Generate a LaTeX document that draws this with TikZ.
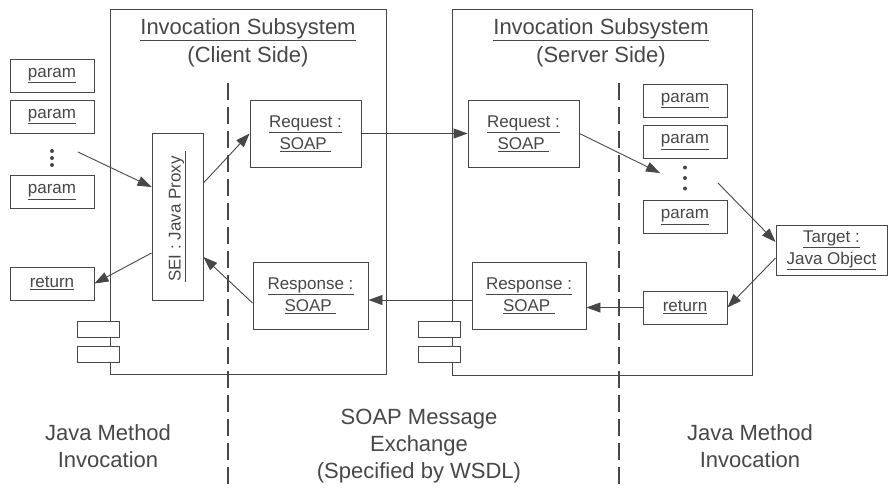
\documentclass[tikz,border=0pt]{standalone}
\usepackage{fontspec}
\setmainfont{Liberation Sans}
\usetikzlibrary{arrows.meta}
\definecolor{ink}{gray}{0.28}

\begin{document}
\begin{tikzpicture}[x=1pt,y=-1pt]
\tikzstyle{every node}+=[inner sep=0pt, text=ink, align=center, font=\fontsize{17}{22}\selectfont]
\tikzstyle{box}=[draw=ink, line width=0.9pt, fill=white, minimum width=84pt, minimum height=33pt]
\tikzstyle{msg}=[box, minimum width=111pt, minimum height=67pt]
\tikzstyle{tab}=[draw=ink, line width=0.9pt, fill=white, minimum width=42pt, minimum height=16pt]
\tikzstyle{sys}=[draw=ink, line width=1pt]
\tikzstyle{split}=[draw=ink, line width=1.6pt, dash pattern=on 17pt off 7pt]
\tikzstyle{flow}=[draw=ink, line width=0.9pt, -{Triangle[length=14pt,width=10pt]}]
\tikzstyle{big}=[font=\fontsize{22}{28}\selectfont]
\useasboundingbox (0,0) rectangle (888,490);

\draw[sys] (110,9) rectangle (386,374);
\draw[sys] (452,9) rectangle (752,375);
\node[tab] (tabC1) at (98,329) {};
\node[tab] (tabC2) at (98,354) {};
\node[tab] (tabS1) at (439,329) {};
\node[tab] (tabS2) at (439,354) {};
\draw[split] (228,83) -- (228,490);
\draw[split] (619,83) -- (619,490);

\node[big] (headC) at (248,43) {\underline{Invocation Subsystem}\\(Client Side)};
\node[big] (headS) at (601,43) {\underline{Invocation Subsystem}\\(Server Side)};

\node[box] (pl1) at (52,75.5) {\underline{param}};
\node[box] (pl2) at (52,116.5) {\underline{param}};
\node (dotsL) at (52,158) {};
\node[box] (pl3) at (52,192) {\underline{param}};
\node[box] (retL) at (52,283.5) {\underline{return}};
\node[draw=ink, line width=0.9pt, minimum width=51pt, minimum height=167pt] (sei) at (177.5,216.5) {};
\node[rotate=90] (seiText) at (sei) {\underline{SEI : Java Proxy\ }};

\node[msg] (reqC) at (305.5,133.5) {\underline{Request :}\\\underline{SOAP\ }};
\node[msg] (reqS) at (523.5,133.5) {\underline{Request :}\\\underline{SOAP\ }};
\node[msg, minimum width=115pt] (resC) at (310.5,295.5) {\underline{Response :}\\\underline{SOAP\ }};
\node[msg, minimum width=114pt] (resS) at (529,295.5) {\underline{Response :}\\\underline{SOAP\ }};

\node[box] (pr1) at (685,100.5) {\underline{param}};
\node[box] (pr2) at (685,142) {\underline{param}};
\node (dotsR) at (685,178) {};
\node[box] (pr3) at (685,217) {\underline{param}};
\node[box] (retR) at (685,307.5) {\underline{return}};
\node[box, minimum width=111pt, minimum height=50pt] (target) at (831.5,250) {\underline{Target :}\\\underline{Java Object}};

\foreach \d in {-7,0,7} \fill[ink] ([yshift=\d pt]dotsL) circle (2);
\foreach \d in {-10.5,0,10.5} \fill[ink] ([yshift=\d pt]dotsR) circle (2);

\coordinate (fromL) at (78,152);
\coordinate (toR) at (660,173);
\coordinate (fromR) at (718,183);
\draw[flow] (fromL) -- ([yshift=29.5pt]sei.west);
\draw[flow] ([yshift=33.5pt]sei.east) -- (reqC.west);
\draw[flow] (reqC.east) -- (reqS.west);
\draw[flow] (reqS.east) -- (toR);
\draw[flow] (fromR) -- ([yshift=8pt]target.west);
\draw[flow] ([yshift=-8pt]target.west) -- (retR.east);
\draw[flow] (retR.west) -- (retR.west -| resS.east);
\draw[flow] ([yshift=-4.5pt]resS.west) -- ([yshift=-4.5pt]resC.east);
\draw[flow] ([yshift=-7.5pt]resC.west) -- ([yshift=-40.5pt]sei.east);
\draw[flow] ([yshift=-36.5pt]sei.west) -- (retL.east);

\node[big, font=\fontsize{22}{27}\selectfont] (javaL) at (108,446) {Java Method\\Invocation};
\node[big, font=\fontsize{22}{27}\selectfont] (soapX) at (419,446) {SOAP Message\\Exchange\\(Specified by WSDL)};
\node[big, font=\fontsize{22}{27}\selectfont] (javaR) at (750,446) {Java Method\\Invocation};
\end{tikzpicture}
\end{document}
